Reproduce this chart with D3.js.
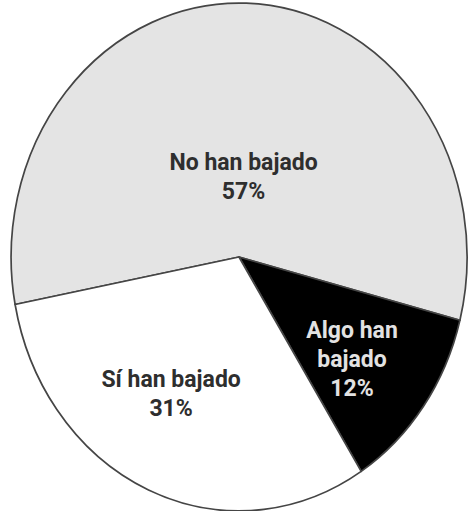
<!DOCTYPE html>
<html>
<head>
<meta charset="utf-8">
<script src="https://cdn.jsdelivr.net/npm/d3@7"></script>
<style>
  body { margin: 0; background: #fff; }
  svg { display: block; }
</style>
</head>
<body>
<svg id="chart"></svg>
<script>
// slice data, in drawing order (clockwise)
const categories = ["No han bajado", "Algo han bajado", "Sí han bajado"]
const values = [57, 12, 31]
const labelLines = [["No han bajado", "57%"], ["Algo han", "bajado", "12%"], ["Sí han bajado", "31%"]]

const width = 469, height = 511
const cx = 239, cy = 257
const rx = 228, ry = 254
const fills = ["#e4e4e4", "#000000", "#ffffff"]
const textColors = ["#2e2e2e", "#e2e2e2", "#2e2e2e"]
// label placement: fraction of radius and a small turn (degrees) off the mid angle
const labelRadius = [0.318, 0.638, 0.614]
const labelTurn = [1.8, 3, 5.6]
const lineHeight = 29

const svg = d3.select("#chart")
    .attr("width", width)
    .attr("height", height)

const pie = d3.pie()
    .sort(null)
    .startAngle(-100.8 * Math.PI / 180)
    .endAngle((360 - 100.8) * Math.PI / 180)
    .value(d => d)

const arcs = pie(values)

const arc = d3.arc().innerRadius(0).outerRadius(1)

// unit pie stretched into the ellipse of the picture
const g = svg.append("g")
    .attr("transform", `translate(${cx},${cy}) scale(${rx},${ry})`)

g.selectAll("path.slice")
    .data(arcs)
    .join("path")
        .attr("class", "slice")
        .attr("d", arc)
        .attr("fill", (d, i) => fills[i])
        .attr("stroke", "#454545")
        .attr("stroke-width", 1.7)
        .attr("stroke-linejoin", "round")
        .attr("vector-effect", "non-scaling-stroke")

const labels = svg.append("g")
    .attr("transform", `translate(${cx},${cy})`)

labels.selectAll("text")
    .data(arcs)
    .join("text")
        .attr("text-anchor", "middle")
        .attr("font-family", "Roboto, 'Noto Sans', sans-serif")
        .attr("font-weight", 700)
        .attr("font-size", 23)
        .attr("fill", (d, i) => textColors[i])
        .attr("transform", (d, i) => {
            const a = (d.startAngle + d.endAngle) / 2 + labelTurn[i] * Math.PI / 180
            const x = Math.sin(a) * labelRadius[i] * rx
            const y = -Math.cos(a) * labelRadius[i] * ry
            return `translate(${x},${y})`
        })
        .each(function (d, i) {
            const lines = labelLines[i]
            const t = d3.select(this)
            lines.forEach((line, j) => {
                t.append("tspan")
                    .attr("x", 0)
                    .attr("y", (j - (lines.length - 1) / 2) * lineHeight + 8)
                    .text(line)
            })
        })
</script>
</body>
</html>
